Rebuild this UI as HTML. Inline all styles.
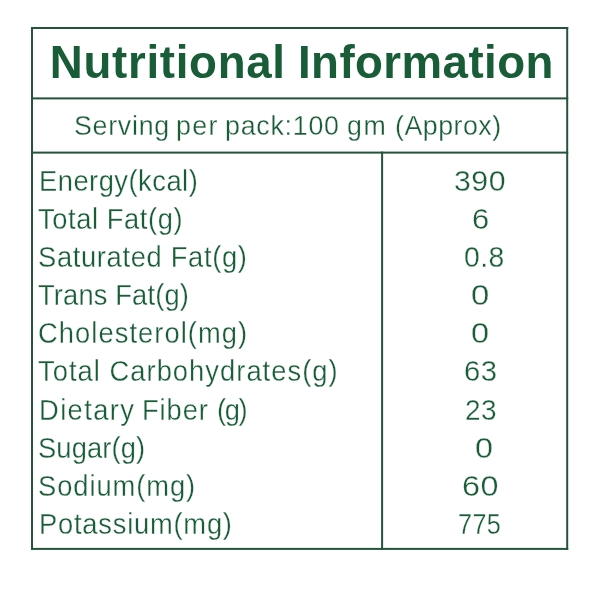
<!DOCTYPE html>
<html lang="en"><head><meta charset="utf-8"><title>Nutritional Information</title>
<style>
html,body{margin:0;padding:0;background:#fff;}
body{width:600px;height:600px;position:relative;overflow:hidden;font-family:"Liberation Sans",Arial,sans-serif;color:#185d37;}
.t{position:absolute;white-space:nowrap;line-height:1;transform-origin:0 0;font-weight:400;}
.b{font-weight:700;}
.n{-webkit-text-stroke:0.3px #fff;}
.fr{position:absolute;left:0;top:0;}
</style></head><body>
<svg class="fr" width="600" height="600" viewBox="0 0 600 600" aria-hidden="true">
<g fill="#24543a">
<rect x="31" y="27" width="537.2" height="2"/>
<rect x="31" y="97.4" width="537.2" height="2"/>
<rect x="31" y="151.6" width="537.2" height="2"/>
<rect x="31" y="547.9" width="537.2" height="2"/>
<rect x="31" y="27" width="2" height="522.9"/>
<rect x="566.2" y="27" width="2" height="522.9"/>
<rect x="381.1" y="151.6" width="2" height="398.3"/>
</g></svg>
<div class="t b" style="left:49.80px;top:40.00px;font-size:45.66px;letter-spacing:0.695px;transform:scaleX(1.0000)">Nutritional</div>
<div class="t b" style="left:298.00px;top:40.00px;font-size:45.66px;letter-spacing:0.425px;transform:scaleX(1.0000)">Information</div>
<div class="t n" style="left:74.01px;top:111.00px;font-size:28.18px;letter-spacing:0.776px;transform:scaleX(0.9500)">Serving</div>
<div class="t n" style="left:175.84px;top:111.00px;font-size:28.18px;letter-spacing:1.382px;transform:scaleX(0.9500)">per</div>
<div class="t n" style="left:225.34px;top:111.00px;font-size:28.18px;letter-spacing:0.808px;transform:scaleX(0.9500)">pack:100</div>
<div class="t n" style="left:347.35px;top:111.00px;font-size:28.18px;letter-spacing:1.816px;transform:scaleX(0.9500)">gm</div>
<div class="t n" style="left:395.34px;top:111.00px;font-size:28.18px;letter-spacing:0.530px;transform:scaleX(0.9500)">(Approx)</div>
<div class="t n" style="left:38.61px;top:167.00px;font-size:28.76px;letter-spacing:0.519px;transform:scaleX(0.9500)">Energy(kcal)</div>
<div class="t n" style="left:38.27px;top:205.00px;font-size:28.76px;letter-spacing:0.618px;transform:scaleX(0.9500)">Total Fat(g)</div>
<div class="t n" style="left:38.41px;top:243.00px;font-size:28.76px;letter-spacing:0.704px;transform:scaleX(0.9500)">Saturated Fat(g)</div>
<div class="t n" style="left:38.27px;top:281.00px;font-size:28.76px;letter-spacing:0.153px;transform:scaleX(0.9500)">Trans Fat(g)</div>
<div class="t n" style="left:38.28px;top:319.00px;font-size:28.76px;letter-spacing:1.121px;transform:scaleX(0.9500)">Cholesterol(mg)</div>
<div class="t n" style="left:38.27px;top:357.00px;font-size:28.76px;letter-spacing:1.093px;transform:scaleX(0.9500)">Total Carbohydrates(g)</div>
<div class="t n" style="left:38.61px;top:396.00px;font-size:28.76px;letter-spacing:1.480px;transform:scaleX(0.9500)">Dietary</div>
<div class="t n" style="left:142.36px;top:396.00px;font-size:28.76px;letter-spacing:0.961px;transform:scaleX(0.9500)">Fiber</div>
<div class="t n" style="left:216.84px;top:396.00px;font-size:28.76px;letter-spacing:-1.401px;transform:scaleX(0.9500)">(g)</div>
<div class="t n" style="left:38.41px;top:434.00px;font-size:28.76px;letter-spacing:0.143px;transform:scaleX(0.9500)">Sugar(g)</div>
<div class="t n" style="left:38.41px;top:472.00px;font-size:28.76px;letter-spacing:0.987px;transform:scaleX(0.9500)">Sodium(mg)</div>
<div class="t n" style="left:38.61px;top:510.00px;font-size:28.76px;letter-spacing:0.818px;transform:scaleX(0.9500)">Potassium(mg)</div>
<div class="t n" style="left:454.45px;top:167.00px;font-size:28.76px;letter-spacing:0.500px;transform:scaleX(1.0532)">390</div>
<div class="t n" style="left:471.66px;top:205.00px;font-size:28.76px;letter-spacing:0.000px;transform:scaleX(1.0741)">6</div>
<div class="t n" style="left:463.81px;top:243.00px;font-size:28.76px;letter-spacing:0.500px;transform:scaleX(0.9858)">0.8</div>
<div class="t n" style="left:471.36px;top:281.00px;font-size:28.76px;letter-spacing:0.000px;transform:scaleX(1.1429)">0</div>
<div class="t n" style="left:471.37px;top:319.00px;font-size:28.76px;letter-spacing:0.000px;transform:scaleX(1.1286)">0</div>
<div class="t n" style="left:464.03px;top:357.00px;font-size:28.76px;letter-spacing:0.500px;transform:scaleX(1.0167)">63</div>
<div class="t n" style="left:464.58px;top:396.00px;font-size:28.76px;letter-spacing:0.500px;transform:scaleX(0.9733)">23</div>
<div class="t n" style="left:474.88px;top:434.00px;font-size:28.76px;letter-spacing:0.000px;transform:scaleX(1.1250)">0</div>
<div class="t n" style="left:461.80px;top:472.00px;font-size:28.76px;letter-spacing:0.500px;transform:scaleX(1.1240)">60</div>
<div class="t n" style="left:458.41px;top:510.00px;font-size:28.76px;letter-spacing:0.500px;transform:scaleX(0.8753)">775</div>
</body></html>
